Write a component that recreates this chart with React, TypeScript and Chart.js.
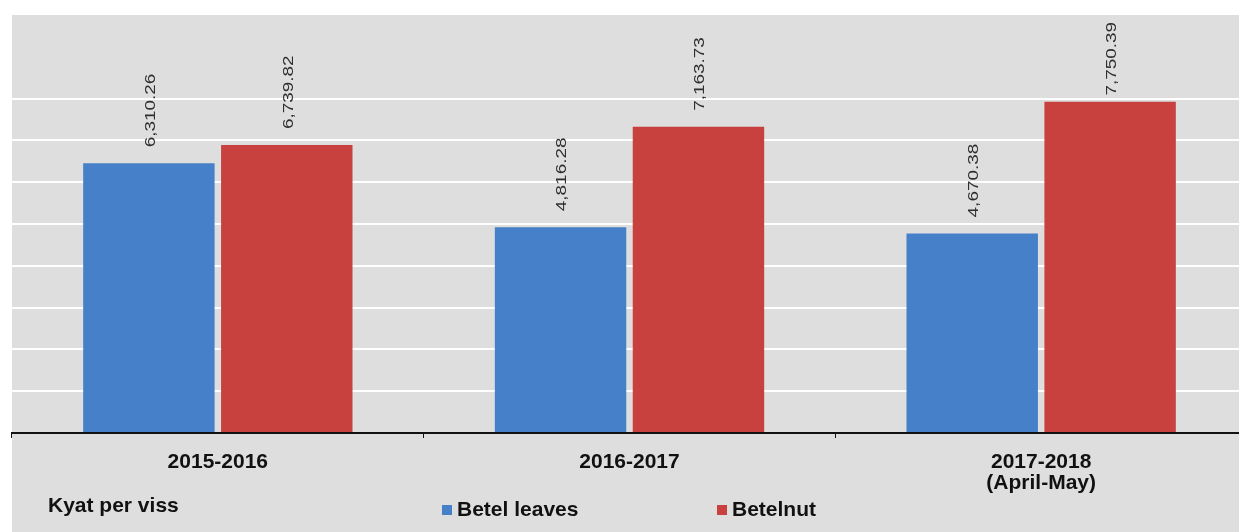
import React, { useEffect, useRef } from "react";
import { Chart, registerables } from "chart.js";

Chart.register(...registerables);

const categories: (string | string[])[] = ["2015-2016", "2016-2017", ["2017-2018", "(April-May)"]];
const seriesNames = ["Betel leaves", "Betelnut"];
const betelLeaves = [6310.26, 4816.28, 4670.38];
const betelnut = [6739.82, 7163.73, 7750.39];
const unitLabel = "Kyat per viss";
const yMax = 9780;
const gridStep = 1000;
const gridTop = 8000;

const BLUE = "#4680c8";
const RED = "#c8413f";
const PANEL = "#dedede";
const FONT = "'Liberation Sans', Arial, sans-serif";

const backgroundPlugin = {
  id: "panelBg",
  beforeDraw(chart: any) {
    const { ctx, width, height } = chart;
    ctx.save();
    ctx.fillStyle = "#ffffff";
    ctx.fillRect(0, 0, width, height);
    ctx.fillStyle = PANEL;
    ctx.fillRect(12, 15, width - 12, height - 15);
    ctx.restore();
  },
};

const valueLabelPlugin = {
  id: "valueLabels",
  afterDatasetsDraw(chart: any) {
    const { ctx } = chart;
    const stretch = 1.35;
    ctx.save();
    ctx.font = `14px ${FONT}`;
    ctx.fillStyle = "#2e2e2e";
    ctx.textAlign = "left";
    ctx.textBaseline = "middle";
    chart.data.datasets.forEach((ds: any, di: number) => {
      const meta = chart.getDatasetMeta(di);
      meta.data.forEach((bar: any, i: number) => {
        const v = ds.data[i] as number;
        const text = v.toLocaleString("en-US", { minimumFractionDigits: 2, maximumFractionDigits: 2 });
        const len = ctx.measureText(text).width * stretch;
        let start = bar.y - 16;
        if (start - len < 22) start = 22 + len;
        ctx.save();
        ctx.translate(bar.x + 2, start);
        ctx.rotate(-Math.PI / 2);
        ctx.scale(stretch, 1);
        ctx.fillText(text, 0, 0);
        ctx.restore();
      });
    });
    ctx.restore();
  },
};

const footerPlugin = {
  id: "footerLegend",
  afterDraw(chart: any) {
    const { ctx } = chart;
    ctx.save();
    ctx.font = `bold 21px ${FONT}`;
    ctx.fillStyle = "#111111";
    ctx.textBaseline = "middle";
    ctx.textAlign = "left";
    ctx.fillText(unitLabel, 48, 506);
    const itemX = [442, 717];
    chart.data.datasets.forEach((ds: any, i: number) => {
      const x = itemX[i];
      ctx.fillStyle = ds.backgroundColor;
      ctx.fillRect(x, 505, 10, 10);
      ctx.fillStyle = "#111111";
      ctx.fillText(ds.label, x + 15, 510);
    });
    ctx.restore();
  },
};

export default function App() {
  const canvasRef = useRef<HTMLCanvasElement | null>(null);

  useEffect(() => {
    if (!canvasRef.current) return;
    const chart = new Chart(canvasRef.current, {
      type: "bar",
      data: {
        labels: categories,
        datasets: [
          {
            label: seriesNames[0],
            data: betelLeaves,
            backgroundColor: BLUE,
            categoryPercentage: 0.67,
            barPercentage: 0.953,
          },
          {
            label: seriesNames[1],
            data: betelnut,
            backgroundColor: RED,
            categoryPercentage: 0.67,
            barPercentage: 0.953,
          },
        ],
      },
      options: {
        animation: false,
        responsive: true,
        maintainAspectRatio: false,
        layout: { padding: { left: 12, top: 15, right: 0, bottom: 0 } },
        plugins: {
          legend: { display: false },
          tooltip: { enabled: false },
          title: { display: false },
        },
        scales: {
          x: {
            grid: {
              offset: true,
              drawOnChartArea: false,
              drawTicks: true,
              tickLength: 5,
              tickColor: "#111111",
              tickWidth: 1,
            },
            border: { display: true, color: "#111111", width: 2 },
            ticks: {
              color: "#111111",
              font: { family: FONT, size: 21, weight: "bold", lineHeight: 1 },
              padding: 14,
              maxRotation: 0,
              autoSkip: false,
            },
            afterFit(scale: any) {
              scale.height = 99;
            },
          },
          y: {
            min: 0,
            max: yMax,
            ticks: { display: false, stepSize: gridStep },
            border: { display: false },
            grid: {
              drawTicks: false,
              lineWidth: 2,
              color: (c: any) => {
                const v = c.tick ? c.tick.value : 0;
                return v > 0 && v <= gridTop ? "#ffffff" : "rgba(0,0,0,0)";
              },
            },
            afterFit(scale: any) {
              scale.width = 0;
            },
          },
        },
      },
      plugins: [backgroundPlugin, valueLabelPlugin, footerPlugin],
    });
    return () => chart.destroy();
  }, []);

  return (
    <div style={{ position: "fixed", left: 0, top: 0, width: 1239, height: 532, overflow: "hidden" }}>
      <div style={{ position: "absolute", left: 0, top: 0, width: 1247, height: 532 }}>
        <canvas ref={canvasRef} />
      </div>
    </div>
  );
}
